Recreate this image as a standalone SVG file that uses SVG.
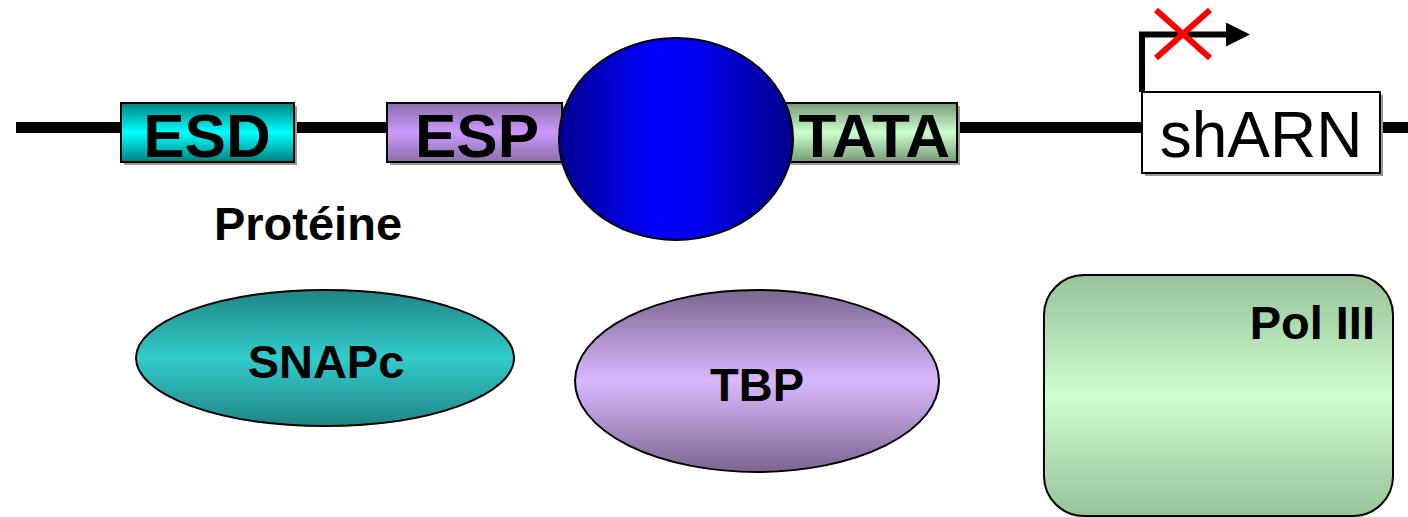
<svg xmlns="http://www.w3.org/2000/svg" width="1408" height="517" viewBox="0 0 1408 517">
<defs>
<linearGradient id="gESD" x1="0" y1="0" x2="0" y2="1"><stop offset="0" stop-color="#008080"/><stop offset="0.5" stop-color="#00ffff"/><stop offset="1" stop-color="#008080"/></linearGradient>
<linearGradient id="gESP" x1="0" y1="0" x2="0" y2="1"><stop offset="0" stop-color="#8a6ea6"/><stop offset="0.5" stop-color="#cc99ff"/><stop offset="1" stop-color="#8a6ea6"/></linearGradient>
<linearGradient id="gTATA" x1="0" y1="0" x2="0" y2="1"><stop offset="0" stop-color="#789878"/><stop offset="0.5" stop-color="#ccffcc"/><stop offset="1" stop-color="#789878"/></linearGradient>
<linearGradient id="gBlue" x1="0" y1="0" x2="1" y2="0"><stop offset="0" stop-color="#000090"/><stop offset="0.4" stop-color="#0000ff"/><stop offset="0.6" stop-color="#0000f0"/><stop offset="1" stop-color="#000088"/></linearGradient>
<linearGradient id="gSNAP" x1="0" y1="0" x2="0" y2="1"><stop offset="0" stop-color="#1e8684"/><stop offset="0.5" stop-color="#33cccc"/><stop offset="1" stop-color="#1e8684"/></linearGradient>
<linearGradient id="gTBP" x1="0" y1="0" x2="0" y2="1"><stop offset="0" stop-color="#7a6690"/><stop offset="0.5" stop-color="#d9b8ff"/><stop offset="1" stop-color="#7a6690"/></linearGradient>
<linearGradient id="gPol" x1="0" y1="0" x2="0" y2="1"><stop offset="0" stop-color="#99c299"/><stop offset="0.5" stop-color="#ccffcc"/><stop offset="1" stop-color="#99c299"/></linearGradient>
<marker id="arr" viewBox="0 0 10 10" refX="0" refY="5" markerWidth="4" markerHeight="4" markerUnits="strokeWidth" orient="auto"><path d="M0,0 L10,5 L0,10 Z" fill="#000"/></marker>
</defs>
<style>
.box{stroke:#000;stroke-width:2}
.shadow{fill:#999}
.big{font-family:"Liberation Sans",Arial,sans-serif;font-weight:bold;font-size:62px;fill:#000}
.lbl{font-family:"Liberation Sans",Arial,sans-serif;font-weight:bold;font-size:47px;fill:#000}
</style>
<rect width="1408" height="517" fill="#fff"/>
<g id="connectors">
<line x1="16" y1="127.5" x2="1408" y2="127.5" stroke="#000" stroke-width="11"/>
</g>
<g id="esd">
<rect class="shadow" x="124" y="106" width="173" height="59"/>
<rect class="box" x="121" y="103" width="173" height="59" fill="url(#gESD)"/>
<text class="big" x="207" y="157" text-anchor="middle">ESD</text>
</g>
<g id="esp">
<rect class="shadow" x="390" y="106" width="175" height="59"/>
<rect class="box" x="387" y="103" width="175" height="59" fill="url(#gESP)"/>
<text class="big" x="477" y="157" text-anchor="middle">ESP</text>
</g>
<g id="tata">
<rect class="shadow" x="763" y="106" width="197" height="59"/>
<rect class="box" x="760" y="103" width="197" height="59" fill="url(#gTATA)"/>
<text class="big" x="950" y="157" text-anchor="end">TATA</text>
</g>
<g id="protein">
<ellipse cx="676" cy="139" rx="117" ry="101" fill="url(#gBlue)" stroke="#000" stroke-width="2"/>
</g>
<g id="sharn">
<rect class="shadow" x="1145" y="95" width="238" height="81"/>
<rect x="1142" y="92" width="238" height="81" fill="#fff" stroke="#000" stroke-width="2"/>
<text x="1261" y="157" text-anchor="middle" font-family="Liberation Sans,Arial,sans-serif" font-size="64" fill="#000">shARN</text>
</g>
<g id="tss">
<path d="M1142,92 V34.5 H1226" fill="none" stroke="#000" stroke-width="6" marker-end="url(#arr)"/>
<path d="M1156,10 L1210,58 M1210,10 L1156,58" stroke="#ff0000" stroke-width="6" fill="none"/>
</g>
<g id="proteine-label">
<text class="lbl" x="308" y="240" text-anchor="middle" font-size="46">Protéine</text>
</g>
<g id="snapc">
<ellipse cx="325" cy="358" rx="189" ry="68" fill="url(#gSNAP)" stroke="#000" stroke-width="2"/>
<text class="lbl" x="326" y="378" text-anchor="middle">SNAPc</text>
</g>
<g id="tbp">
<ellipse cx="757" cy="381" rx="182" ry="91" fill="url(#gTBP)" stroke="#000" stroke-width="2"/>
<text class="lbl" x="757" y="401" text-anchor="middle">TBP</text>
</g>
<g id="pol3">
<rect x="1044" y="275" width="349" height="241" rx="40" ry="40" fill="url(#gPol)" stroke="#000" stroke-width="2"/>
<text class="lbl" x="1375" y="339" text-anchor="end">Pol III</text>
</g>
</svg>
